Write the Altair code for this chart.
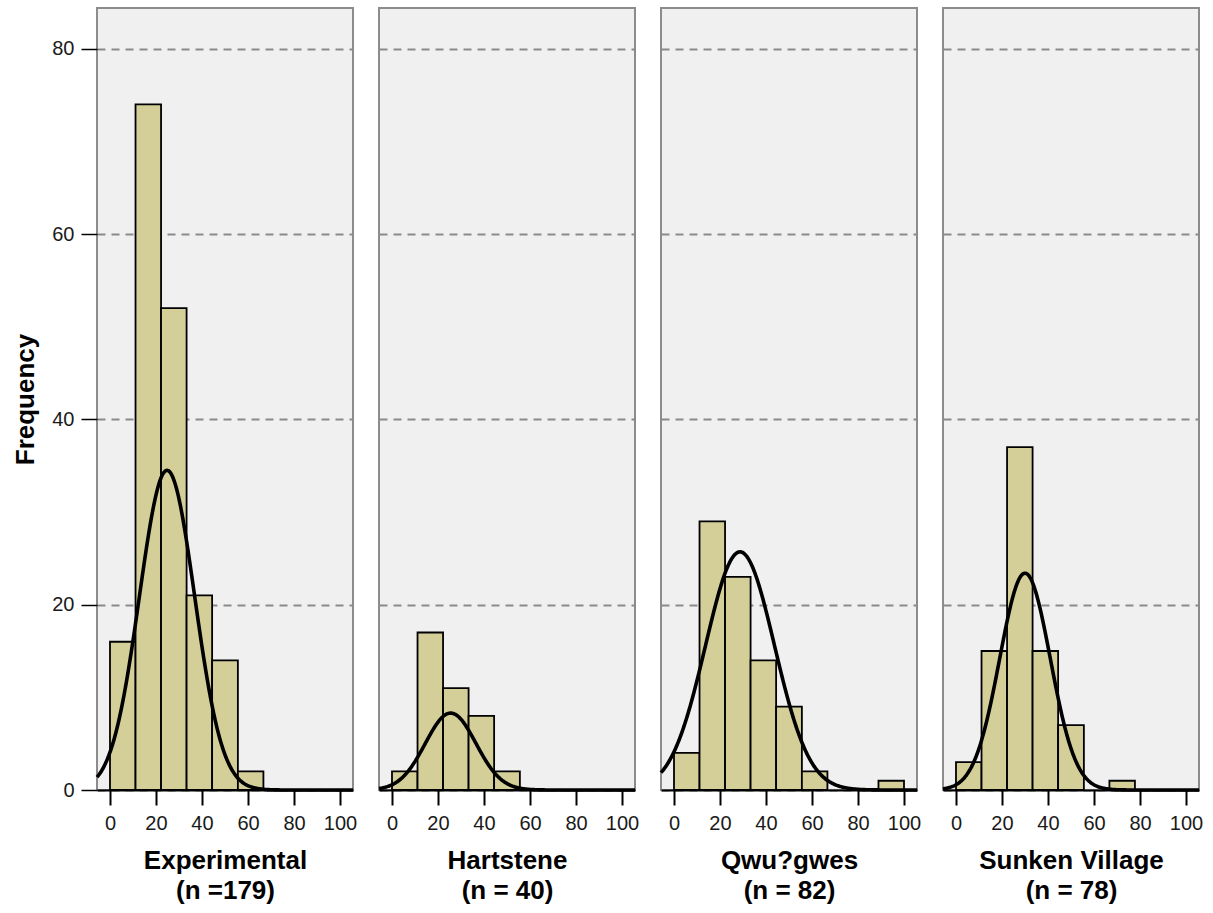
import altair as alt
import numpy as np
import pandas as pd

# Sites and their sample sizes (shown under each panel)
sites = ["Experimental", "Hartstene", "Qwu?gwes", "Sunken Village"]
n_text = ["(n =179)", "(n = 40)", "(n = 82)", "(n = 78)"]

# Histogram bins (shared by every panel)
bin_edges = [0.0, 11.1, 22.2, 33.3, 44.4, 55.6, 66.7, 77.8, 88.9, 100.0]

# Frequency in each bin, per site
counts_experimental = [16, 74, 52, 21, 14, 2, 0, 0, 0]
counts_hartstene = [2, 17, 11, 8, 2, 0, 0, 0, 0]
counts_qwugwes = [4, 29, 23, 14, 9, 2, 0, 0, 1]
counts_sunken = [3, 15, 37, 15, 7, 0, 1, 0, 0]
counts = [counts_experimental, counts_hartstene, counts_qwugwes, counts_sunken]

# Fitted normal curves: centre, spread and peak height per site
curve_mean = [24.8, 25.5, 28.7, 30.0]
curve_sd = [12.0, 11.0, 15.0, 11.0]
curve_peak = [34.5, 8.3, 25.7, 23.4]

x_ticks = [0, 20, 40, 60, 80, 100]
y_ticks = [0, 20, 40, 60, 80]
X_DOMAIN = [-5.65, 105.65]
Y_DOMAIN = [0, 84.4]

FONT = "Liberation Sans"
BAR_FILL = "#d4cf98"


def panel(i):
    bars = pd.DataFrame(
        {"lo": bin_edges[:-1], "hi": bin_edges[1:], "count": counts[i]}
    )
    bars = bars[bars["count"] > 0]

    xs = np.linspace(X_DOMAIN[0], X_DOMAIN[1], 400)
    ys = curve_peak[i] * np.exp(-0.5 * ((xs - curve_mean[i]) / curve_sd[i]) ** 2)
    curve = pd.DataFrame({"x": xs, "y": ys})

    x_scale = alt.Scale(domain=X_DOMAIN, nice=False, zero=False)
    y_scale = alt.Scale(domain=Y_DOMAIN, nice=False)

    x_axis = alt.Axis(
        values=x_ticks,
        format="d",
        title=[sites[i], n_text[i]],
        grid=False,
        tickSize=15,
        tickWidth=2,
        labelPadding=8,
        titlePadding=14,
        titleLineHeight=30,
        domain=True,
        domainColor="black",
        domainWidth=2,
    )
    if i == 0:
        y_axis = alt.Axis(
            values=y_ticks,
            format="d",
            title="Frequency",
            grid=True,
            tickSize=16,
            tickWidth=1.5,
            labelPadding=7,
            titlePadding=13,
            domain=False,
        )
    else:
        y_axis = alt.Axis(
            values=y_ticks,
            grid=True,
            labels=False,
            ticks=False,
            domain=False,
            title=None,
        )

    rects = (
        alt.Chart(bars)
        .mark_rect(fill=BAR_FILL, stroke="black", strokeWidth=1.8)
        .encode(
            x=alt.X("lo:Q", scale=x_scale, axis=x_axis),
            x2="hi:Q",
            y=alt.Y("count:Q", scale=y_scale, axis=y_axis),
            y2=alt.datum(0),
        )
    )
    line = (
        alt.Chart(curve)
        .mark_line(color="black", strokeWidth=3.6)
        .encode(
            x=alt.X("x:Q", scale=x_scale, axis=x_axis),
            y=alt.Y("y:Q", scale=y_scale, axis=y_axis),
        )
    )
    return alt.layer(rects, line).properties(width=256, height=782)


chart = (
    alt.hconcat(*[panel(i) for i in range(4)], spacing=26, bounds="flush")
    .properties(padding={"left": 11, "top": 7, "right": 5, "bottom": 2})
    .configure_view(fill="#f0f0f0", stroke="#8c8c8c", strokeWidth=2)
    .configure_axis(
        labelFont=FONT,
        labelFontSize=20,
        labelColor="#1a1a1a",
        tickColor="black",
        titleFont=FONT,
        titleFontSize=26,
        titleFontWeight="bold",
        titleColor="black",
        gridColor="#8a8a8a",
        gridDash=[8, 6],
        gridWidth=2,
    )
)

chart.save("out.html", embed_options={"renderer": "svg", "actions": False})
